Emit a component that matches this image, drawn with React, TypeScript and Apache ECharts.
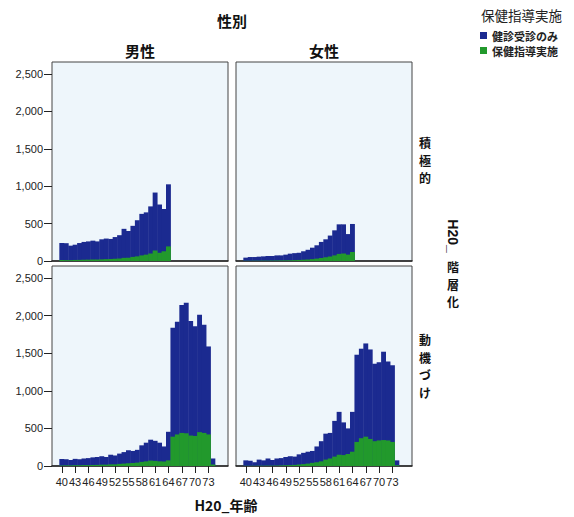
import { useEffect, useRef } from 'react';
import * as echarts from 'echarts';

// Single-year ages on the horizontal axis
const ages = [
  40, 41, 42, 43, 44, 45, 46, 47, 48, 49, 50, 51, 52, 53, 54, 55, 56, 57,
  58, 59, 60, 61, 62, 63, 64, 65, 66, 67, 68, 69, 70, 71, 72, 73, 74,
];
// 積極的支援 only applies up to age 64
const activeAges = ages.slice(0, 25);

const xTicks = [40, 43, 46, 49, 52, 55, 58, 61, 64, 67, 70, 73];
const yTicks = [0, 500, 1000, 1500, 2000, 2500];

const seriesNames = ['健診受診のみ', '保健指導実施'];

// Bar heights: all examinees (top of stack) and those who received guidance
const maleActiveTotal = [
  240, 238, 205, 218, 240, 255, 262, 272, 262, 290, 300, 295, 320, 345, 430,
  400, 470, 545, 630, 650, 730, 915, 755, 695, 1025,
];
const maleActiveGuided = [
  12, 12, 12, 14, 15, 17, 18, 20, 20, 22, 25, 27, 30, 33, 42, 45, 55, 62, 75,
  85, 100, 140, 110, 130, 195,
];
const femaleActiveTotal = [
  45, 53, 53, 58, 62, 67, 67, 75, 75, 85, 98, 105, 110, 130, 150, 178, 210,
  255, 290, 340, 410, 490, 490, 360, 495,
];
const femaleActiveGuided = [
  3, 3, 4, 4, 5, 5, 6, 7, 8, 9, 10, 12, 14, 17, 20, 25, 32, 40, 50, 60, 75, 95,
  100, 85, 120,
];
const maleMotivTotal = [
  92, 90, 80, 95, 90, 100, 105, 115, 120, 130, 120, 150, 140, 165, 185, 210,
  200, 215, 275, 310, 350, 335, 310, 260, 455, 1840, 1920, 2140, 2170, 1930,
  1860, 2010, 1880, 1590, 100,
];
const maleMotivGuided = [
  8, 8, 8, 10, 10, 12, 12, 14, 15, 18, 18, 22, 22, 28, 32, 38, 40, 45, 55, 62,
  72, 68, 62, 60, 75, 390, 420, 440, 435, 405, 400, 450, 440, 420, 20,
];
const femaleMotivTotal = [
  75, 70, 50, 85, 75, 100, 80, 100, 105, 120, 130, 125, 155, 175, 190, 200,
  260, 330, 430, 440, 600, 720, 580, 500, 720, 1480, 1560, 1630, 1550, 1360,
  1380, 1520, 1390, 1340, 75,
];
const femaleMotivGuided = [
  3, 3, 3, 4, 4, 5, 5, 6, 8, 10, 12, 15, 20, 25, 32, 42, 50, 62, 85, 100, 125,
  150, 145, 160, 190, 320, 370, 390, 360, 330, 340, 345, 340, 320, 10,
];

const BLUE = '#1b2a90';
const GREEN = '#22992c';
const PANEL_BG = '#eef6fb';
const LATIN = '"Liberation Sans", Arial, sans-serif';
const CJK = '"Noto Sans CJK JP", "Liberation Sans", sans-serif';

const panels = [
  { left: 52, top: 62, height: 199, x: activeAges, total: maleActiveTotal, guided: maleActiveGuided, yLabels: true, xLabels: false },
  { left: 236, top: 62, height: 199, x: activeAges, total: femaleActiveTotal, guided: femaleActiveGuided, yLabels: false, xLabels: false },
  { left: 52, top: 266, height: 200, x: ages, total: maleMotivTotal, guided: maleMotivGuided, yLabels: true, xLabels: true },
  { left: 236, top: 266, height: 200, x: ages, total: femaleMotivTotal, guided: femaleMotivGuided, yLabels: false, xLabels: true },
];

function label(text: string, x: number, y: number, size: number, extra: any = {}) {
  return {
    type: 'text',
    x,
    y,
    silent: true,
    ...extra,
    style: {
      text,
      fill: '#111',
      fontSize: size,
      fontWeight: 'bold',
      fontFamily: CJK,
      align: 'center',
      verticalAlign: 'middle',
      ...(extra.style || {}),
    },
  };
}

export default function App() {
  const ref = useRef<HTMLDivElement>(null);

  useEffect(() => {
    if (!ref.current) return;
    const chart = echarts.init(ref.current, null, { renderer: 'svg' });

    const option: any = {
      animation: false,
      backgroundColor: '#ffffff',
      grid: panels.map((p) => ({
        left: p.left,
        top: p.top,
        width: 176,
        height: p.height,
        show: true,
        backgroundColor: PANEL_BG,
        borderColor: '#444',
        borderWidth: 1,
      })),
      xAxis: panels.map((p, i) => ({
        type: 'value',
        gridIndex: i,
        min: 37.8,
        max: 77.4,
        splitLine: { show: false },
        axisLine: { show: true, onZero: false, lineStyle: { color: '#222', width: 1.5 } },
        axisTick: {
          show: p.xLabels,
          length: 7,
          customValues: xTicks,
          lineStyle: { color: '#222' },
        },
        axisLabel: {
          show: p.xLabels,
          customValues: xTicks,
          margin: 10,
          fontSize: 11,
          color: '#222',
          fontFamily: LATIN,
        },
      })),
      yAxis: panels.map((p, i) => ({
        type: 'value',
        gridIndex: i,
        min: 0,
        max: 2660,
        splitLine: { show: false },
        axisLine: { show: false },
        axisTick: {
          show: p.yLabels,
          length: 8,
          customValues: yTicks,
          lineStyle: { color: '#222' },
        },
        axisLabel: {
          show: p.yLabels,
          customValues: yTicks,
          margin: 9,
          fontSize: 11,
          color: '#222',
          fontFamily: LATIN,
          formatter: (v: number) => v.toLocaleString('en-US'),
        },
      })),
      legend: {
        left: 475,
        top: 24.5,
        orient: 'vertical',
        icon: 'rect',
        itemWidth: 7,
        itemHeight: 7,
        itemGap: 3,
        selectedMode: false,
        data: seriesNames,
        textStyle: {
          fontSize: 11,
          fontWeight: 'bold',
          fontFamily: CJK,
          color: '#222',
          lineHeight: 12,
        },
      },
      series: panels.flatMap((p, i) => [
        {
          type: 'bar',
          name: seriesNames[0],
          xAxisIndex: i,
          yAxisIndex: i,
          barWidth: 4.9,
          barGap: '-100%',
          itemStyle: { color: BLUE },
          data: p.x.map((a, j) => [a, p.total[j]]),
        },
        {
          type: 'bar',
          name: seriesNames[1],
          xAxisIndex: i,
          yAxisIndex: i,
          barWidth: 4.9,
          barGap: '-100%',
          itemStyle: { color: GREEN },
          data: p.x.map((a, j) => [a, p.guided[j]]),
        },
      ]),
      graphic: [
        label('性別', 232, 20, 15),
        label('男性', 140, 50, 15),
        label('女性', 324, 50, 15),
        label('積\n極\n的', 425, 160, 12, { style: { lineHeight: 17.6 } }),
        label('動\n機\nづ\nけ', 425, 366, 12, { style: { lineHeight: 17.6 } }),
        label('H20_', 453, 236, 14, { rotation: -Math.PI / 2, style: { fontFamily: LATIN } }),
        label('階\n層\n化', 453, 284, 12, { style: { lineHeight: 17.6 } }),
        label('H20_年齢', 226, 505, 14),
        label('保健指導実施', 521.5, 15, 13.5, { style: { fontWeight: 'normal', fill: '#222' } }),
      ],
    };

    chart.setOption(option);
    return () => chart.dispose();
  }, []);

  return (
    <div
      ref={ref}
      style={{ position: 'fixed', left: 0, top: 0, width: 574, height: 517, background: '#fff' }}
    />
  );
}
